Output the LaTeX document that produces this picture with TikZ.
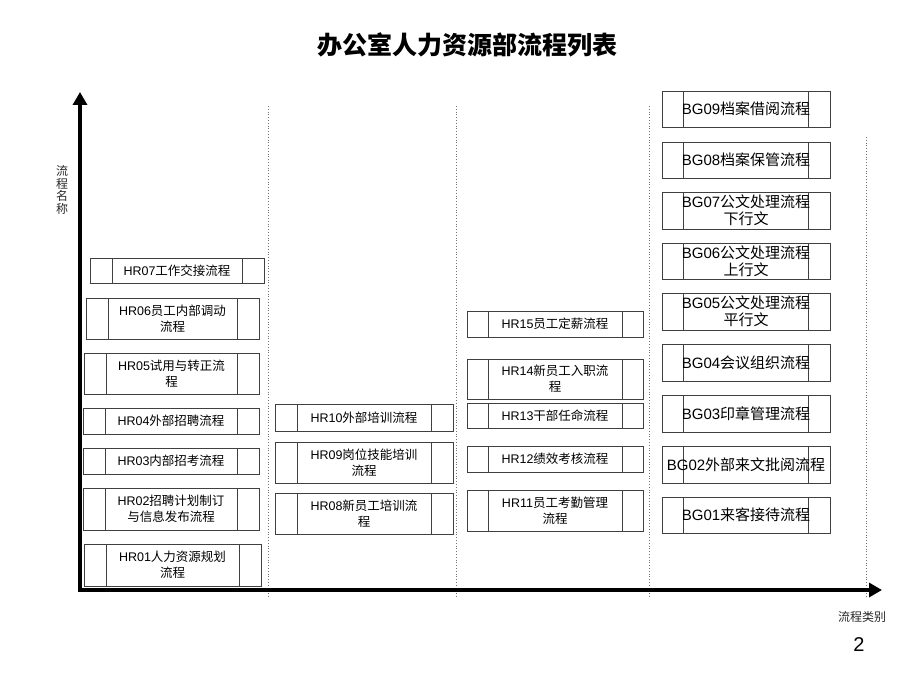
\documentclass[tikz,border=0pt]{standalone}
\usepackage{fontspec}
\setmainfont{Liberation Sans}
\newfontfamily\cjk{Noto Sans CJK SC}
\newcommand\zh[1]{{\cjk #1}}
\usepackage{tikz}
\usetikzlibrary{arrows.meta,positioning}

\tikzset{
  proc/.style={draw=black!75, line width=0.9pt, inner sep=0pt, align=center,
    path picture={
      \draw[black!75, line width=0.9pt]
        ([xshift=#1]path picture bounding box.north west) -- ([xshift=#1]path picture bounding box.south west)
        ([xshift=-#1]path picture bounding box.north east) -- ([xshift=-#1]path picture bounding box.south east);
    }},
  proc/.default=22pt,
  hrbox/.style={proc=22pt, minimum width=176pt, minimum height=26pt, font=\fontsize{12.5}{16}\selectfont},
  bgbox/.style={proc=21.5pt, minimum width=168pt, minimum height=36pt, font=\fontsize{15}{17}\selectfont},
  axis/.style={line width=4.5pt, line join=miter, {Triangle[length=13pt,width=14pt]}-{Triangle[length=13pt,width=14pt]}},
  sep/.style={black!55, dotted, line width=0.8pt}
}

\begin{document}
\begin{tikzpicture}[x=1pt, y=-1pt]
    \useasboundingbox (0,0) rectangle (920,690);

    % Title
    \node[font=\cjk\bfseries\fontsize{25}{28}\selectfont] (title) at (467,45) {办公室人力资源部流程列表};

    % Column separators
    \draw[sep] (268,106) -- (268,598);
    \draw[sep] (456,106) -- (456,598);
    \draw[sep] (649,106) -- (649,598);
    \draw[sep] (866,137) -- (866,598);

    % Axes
    \coordinate (origin) at (80,590);
    \coordinate (ytip) at (80,92);
    \coordinate (xtip) at (882,590);
    \draw[axis] (ytip) -- (origin) -- (xtip);
    \node[font=\cjk\fontsize{12}{12.5}\selectfont, text=black!85, align=center] (ylabel) at (62,190) {流\\程\\名\\称};
    \node[font=\cjk\fontsize{12}{14}\selectfont, text=black!85] (xlabel) at (862,617) {流程类别};
    \node[font=\fontsize{20}{22}\selectfont] (page) at (859,645) {2};

    % HR column 1
    \node[hrbox, minimum width=174pt, minimum height=25pt] (hr07) at (177,270.5) {HR07\zh{工作交接流程}};
    \node[hrbox, minimum width=173pt, minimum height=41pt] (hr06) at (172.5,318.5) {HR06\zh{员工内部调动}\\\zh{流程}};
    \node[hrbox, minimum width=175pt, minimum height=41pt] (hr05) at (171.5,373.5) {HR05\zh{试用与转正流}\\\zh{程}};
    \node[hrbox] (hr04) at (171,421) {HR04\zh{外部招聘流程}};
    \node[hrbox] (hr03) at (171,461) {HR03\zh{内部招考流程}};
    \node[hrbox, minimum height=42pt] (hr02) at (171,509) {HR02\zh{招聘计划制订}\\\zh{与信息发布流程}};
    \node[hrbox, minimum width=177pt, minimum height=42pt] (hr01) at (172.5,565) {HR01\zh{人力资源规划}\\\zh{流程}};

    % HR column 2
    \node[hrbox, minimum width=178pt, minimum height=27pt] (hr10) at (364,417.5) {HR10\zh{外部培训流程}};
    \node[hrbox, minimum width=178pt, minimum height=41pt] (hr09) at (364,462.5) {HR09\zh{岗位技能培训}\\\zh{流程}};
    \node[hrbox, minimum width=178pt, minimum height=41pt] (hr08) at (364,513.5) {HR08\zh{新员工培训流}\\\zh{程}};

    % HR column 3
    \node[hrbox, proc=21pt] (hr15) at (555,324) {HR15\zh{员工定薪流程}};
    \node[hrbox, proc=21pt, minimum height=40pt] (hr14) at (555,379) {HR14\zh{新员工入职流}\\\zh{程}};
    \node[hrbox, proc=21pt, minimum height=25pt] (hr13) at (555,415.5) {HR13\zh{干部任命流程}};
    \node[hrbox, proc=21pt] (hr12) at (555,459) {HR12\zh{绩效考核流程}};
    \node[hrbox, proc=21pt, minimum height=41pt] (hr11) at (555,510.5) {HR11\zh{员工考勤管理}\\\zh{流程}};

    % BG column
    \node[bgbox] (bg09) at (746,109) {BG09\zh{档案借阅流程}};
    \node[bgbox] (bg08) at (746,160) {BG08\zh{档案保管流程}};
    \node[bgbox, minimum height=37pt] (bg07) at (746,210.5) {BG07\zh{公文处理流程}\\\zh{下行文}};
    \node[bgbox] (bg06) at (746,261) {BG06\zh{公文处理流程}\\\zh{上行文}};
    \node[bgbox, minimum height=37pt] (bg05) at (746,311.5) {BG05\zh{公文处理流程}\\\zh{平行文}};
    \node[bgbox, minimum height=37pt] (bg04) at (746,362.5) {BG04\zh{会议组织流程}};
    \node[bgbox, minimum height=37pt] (bg03) at (746,413.5) {BG03\zh{印章管理流程}};
    \node[bgbox, minimum height=37pt] (bg02) at (746,464.5) {BG02\zh{外部来文批阅流程}};
    \node[bgbox] (bg01) at (746,515) {BG01\zh{来客接待流程}};
\end{tikzpicture}
\end{document}
